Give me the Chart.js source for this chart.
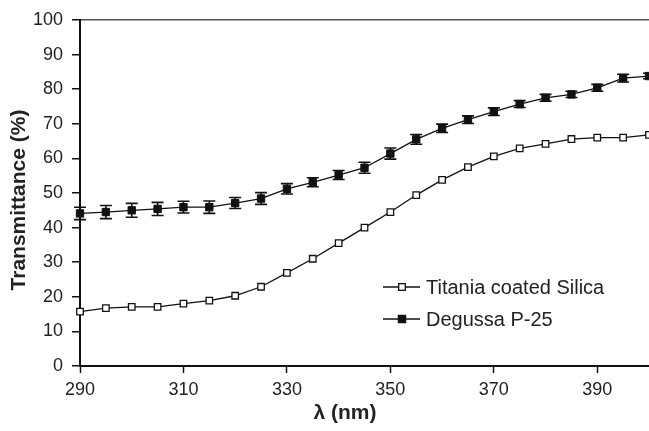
<!DOCTYPE html>
<html>
<head>
<meta charset="utf-8">
<script src="https://cdn.jsdelivr.net/npm/chart.js@4.4.1/dist/chart.umd.min.js"></script>
<style>
  html, body { margin: 0; padding: 0; background: #fff; overflow: hidden; }
  canvas { display: block; }
</style>
</head>
<body>
<canvas id="chart" width="649" height="431"></canvas>
<script>
// wavelengths (nm)
const wavelengths = [290, 295, 300, 305, 310, 315, 320, 325, 330, 335, 340, 345, 350, 355, 360, 365, 370, 375, 380, 385, 390, 395, 400];
// transmittance (%)
const titania = [15.7, 16.7, 17.1, 17.1, 18.0, 18.9, 20.3, 22.9, 26.9, 31.0, 35.5, 40.0, 44.5, 49.4, 53.8, 57.5, 60.6, 62.9, 64.2, 65.6, 66.0, 66.0, 66.8];
const degussa = [44.1, 44.5, 45.0, 45.4, 45.9, 45.9, 47.1, 48.4, 51.2, 53.1, 55.2, 57.3, 61.4, 65.5, 68.7, 71.2, 73.5, 75.7, 77.5, 78.5, 80.4, 83.2, 83.8];
const degussaErr = [1.8, 1.9, 2.0, 1.9, 1.7, 1.8, 1.6, 1.7, 1.5, 1.3, 1.3, 1.6, 1.6, 1.4, 1.2, 1.1, 1.1, 1.0, 1.0, 0.9, 1.0, 1.1, 0.8];
const seriesNames = ['Titania coated Silica', 'Degussa P-25'];
const xTicks = [290, 310, 330, 350, 370, 390];

const toPoints = (ys) => wavelengths.map((x, i) => ({ x: x, y: ys[i] }));

// error bars for Degussa, drawn under the markers
const errorBars = {
  id: 'errorBars',
  beforeDatasetsDraw(chart) {
    const ctx = chart.ctx;
    const meta = chart.getDatasetMeta(1);
    const yScale = chart.scales.y;
    ctx.save();
    ctx.strokeStyle = '#111';
    ctx.lineWidth = 1.6;
    meta.data.forEach((pt, i) => {
      const top = yScale.getPixelForValue(degussa[i] + degussaErr[i]);
      const bot = yScale.getPixelForValue(degussa[i] - degussaErr[i]);
      ctx.beginPath();
      ctx.moveTo(pt.x, top); ctx.lineTo(pt.x, bot);
      ctx.moveTo(pt.x - 6, top); ctx.lineTo(pt.x + 6, top);
      ctx.moveTo(pt.x - 6, bot); ctx.lineTo(pt.x + 6, bot);
      ctx.stroke();
    });
    ctx.restore();
  }
};

// legend inside the plot + axis titles
const extras = {
  id: 'extras',
  afterDraw(chart) {
    const ctx = chart.ctx;
    ctx.save();
    const rows = [
      { y: 287, fill: '#fff', r: 3.3 },
      { y: 319, fill: '#111', r: 3.6 }
    ];
    rows.forEach((row, i) => {
      ctx.strokeStyle = '#111';
      ctx.lineWidth = 1.3;
      ctx.beginPath();
      ctx.moveTo(383, row.y); ctx.lineTo(420, row.y);
      ctx.stroke();
      ctx.fillStyle = row.fill;
      ctx.fillRect(402 - row.r, row.y - row.r, row.r * 2, row.r * 2);
      ctx.strokeRect(402 - row.r, row.y - row.r, row.r * 2, row.r * 2);
      ctx.fillStyle = '#222';
      ctx.font = '20px "Liberation Sans", Arial, sans-serif';
      ctx.textAlign = 'left';
      ctx.textBaseline = 'middle';
      ctx.fillText(seriesNames[i], 426, row.y + 1);
    });

    ctx.fillStyle = '#222';
    ctx.font = 'bold 21px "Liberation Sans", Arial, sans-serif';
    ctx.textAlign = 'center';
    ctx.textBaseline = 'middle';
    ctx.fillText('\u03bb (nm)', 345, 413);

    ctx.translate(19, 200);
    ctx.rotate(-Math.PI / 2);
    ctx.fillText('Transmittance (%)', 0, 0);
    ctx.restore();
  }
};

new Chart(document.getElementById('chart'), {
  type: 'line',
  data: {
    datasets: [
      {
        label: seriesNames[0],
        data: toPoints(titania),
        borderColor: '#111',
        borderWidth: 1.3,
        pointStyle: 'rect',
        pointRadius: 4.6,
        pointBackgroundColor: '#fff',
        pointBorderColor: '#111',
        pointBorderWidth: 1.3,
        tension: 0,
        clip: false
      },
      {
        label: seriesNames[1],
        data: toPoints(degussa),
        borderColor: '#111',
        borderWidth: 1.3,
        pointStyle: 'rect',
        pointRadius: 5.2,
        pointBackgroundColor: '#111',
        pointBorderColor: '#111',
        pointBorderWidth: 1,
        tension: 0,
        clip: false
      }
    ]
  },
  options: {
    responsive: false,
    animation: false,
    layout: { autoPadding: false, padding: { top: 20, right: 0, bottom: 0, left: 0 } },
    plugins: {
      legend: { display: false },
      tooltip: { enabled: false }
    },
    scales: {
      x: {
        type: 'linear',
        min: 290,
        max: 400,
        afterBuildTicks: (scale) => { scale.ticks = xTicks.map(v => ({ value: v })); },
        afterFit: (scale) => { scale.height = 65; scale.paddingRight = 0; scale.paddingLeft = 0; },
        border: { display: true, color: '#111', width: 2 },
        grid: { color: 'rgba(0,0,0,0)', drawOnChartArea: false, drawTicks: true, tickLength: 7, tickColor: '#111', tickWidth: 1.5 },
        ticks: { color: '#222', font: { family: '"Liberation Sans", Arial, sans-serif', size: 18 }, padding: 6, maxRotation: 0, autoSkip: false }
      },
      y: {
        min: 0,
        max: 100,
        afterFit: (scale) => { scale.width = 80; scale.paddingTop = 0; scale.paddingBottom = 0; },
        border: { display: true, color: '#111', width: 2 },
        grid: {
          color: (c) => (c.tick && c.tick.value === 100 ? '#555' : 'rgba(0,0,0,0)'),
          lineWidth: 1.5,
          drawTicks: true, tickLength: 8, tickColor: '#111', tickWidth: 1.5
        },
        ticks: { stepSize: 10, color: '#222', font: { family: '"Liberation Sans", Arial, sans-serif', size: 18 }, padding: 9 }
      }
    }
  },
  plugins: [errorBars, extras]
});
</script>
</body>
</html>
